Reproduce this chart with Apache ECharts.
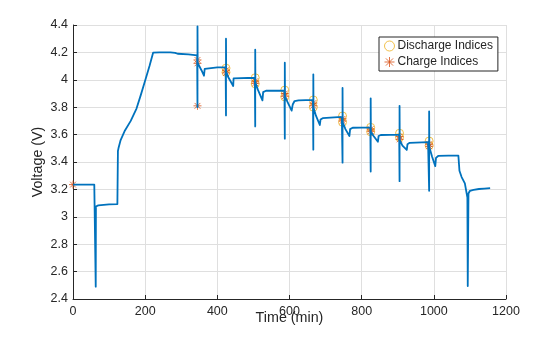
<!DOCTYPE html>
<html>
<head>
<meta charset="utf-8">
<script src="https://cdn.jsdelivr.net/npm/echarts@6/dist/echarts.min.js"></script>
<style>
  html, body { margin: 0; padding: 0; background: #fff; }
  #chart { width: 560px; height: 337px; }
</style>
</head>
<body>
<div id="chart"></div>
<script>
// Cell voltage trace (time in minutes, voltage in volts)
const timeMin = [
  0, 59, 62, 63, 63.5, 70, 100, 123, 124.5, 126, 132, 144, 160, 176, 188, 200, 212, 222, 240, 270, 283, 290, 320, 344,
  345, 345, 345, 345.5, 350, 356, 363, 365, 369, 400, 423,
  424, 424, 424, 424.5, 430, 444, 445, 450, 504,
  505, 505, 505, 505.5, 512, 525, 527, 535, 586,
  587, 587, 587, 587.5, 594, 606, 609, 614, 625, 665,
  666, 666, 666, 666.5, 673, 684, 686, 692, 745,
  747, 747, 747, 747.5, 755, 766, 768, 775, 824,
  825, 825, 825, 825.5, 833, 845, 847, 853, 904,
  905, 905, 905, 905.5, 913, 925, 927, 933, 984,
  987, 987, 987, 987.5, 995, 1004, 1006, 1012, 1040, 1068,
  1071, 1077, 1086, 1091, 1093, 1094, 1096, 1100, 1110, 1125, 1140, 1156
];
const voltage = [
  3.235, 3.235, 3.235, 2.49, 3.075, 3.083, 3.09, 3.093, 3.48, 3.50, 3.56, 3.63, 3.70, 3.79, 3.89, 3.995, 4.10, 4.198, 4.20, 4.20, 4.197, 4.19, 4.185, 4.178,
  4.178, 3.80, 4.39, 4.125, 4.10, 4.07, 4.03, 4.08, 4.085, 4.09, 4.09,
  4.09, 3.74, 4.30, 4.06, 4.02, 3.955, 4.01, 4.015, 4.015,
  4.015, 3.66, 4.22, 3.98, 3.93, 3.85, 3.91, 3.92, 3.922,
  3.922, 3.57, 4.125, 3.88, 3.84, 3.775, 3.82, 3.845, 3.85, 3.853,
  3.853, 3.49, 4.04, 3.80, 3.74, 3.67, 3.71, 3.72, 3.73,
  3.733, 3.395, 3.94, 3.69, 3.64, 3.59, 3.64, 3.65, 3.653,
  3.653, 3.33, 3.865, 3.62, 3.59, 3.548, 3.59, 3.597, 3.60,
  3.60, 3.26, 3.81, 3.56, 3.52, 3.488, 3.53, 3.54, 3.545,
  3.548, 3.19, 3.77, 3.51, 3.44, 3.37, 3.43, 3.444, 3.446, 3.447,
  3.336, 3.29, 3.244, 3.17, 3.14, 2.495, 3.17, 3.19, 3.197, 3.203, 3.206, 3.21
];

// Discharge pulse markers
const dischargeTime = [424, 424, 505, 505, 587, 587, 666, 666, 747, 747, 825, 825, 905, 905, 987, 987];
const dischargeVolt = [4.085, 4.055, 4.015, 3.97, 3.925, 3.875, 3.853, 3.80, 3.736, 3.69, 3.653, 3.62, 3.61, 3.58, 3.553, 3.52];

// Charge pulse markers
const chargeTime = [0, 345, 345, 345, 424, 424, 505, 505, 587, 587, 666, 666, 747, 747, 825, 825, 905, 905, 987, 987];
const chargeVolt = [3.235, 4.145, 4.12, 3.81, 4.07, 4.05, 3.99, 3.975, 3.90, 3.88, 3.83, 3.81, 3.715, 3.70, 3.64, 3.625, 3.585, 3.565, 3.53, 3.515];

const xTicks = { min: 0, max: 1200, step: 200 };
const yTicks = { min: 2.4, max: 4.4, step: 0.2 };

const zip = (a, b) => a.map((v, i) => [v, b[i]]);
const asterisk = 'path://M0,-1L0,1M-1,0L1,0M-0.72,-0.72L0.72,0.72M-0.72,0.72L0.72,-0.72';
const ink = '#262626';
const font = 'Liberation Sans, Arial, Helvetica, sans-serif';

const chart = echarts.init(document.getElementById('chart'), null, { renderer: 'canvas' });
chart.setOption({
  animation: false,
  backgroundColor: '#ffffff',
  grid: { left: 73, top: 25, right: 54, bottom: 38, containLabel: false, outerBoundsMode: 'none' },
  xAxis: {
    type: 'value', min: xTicks.min, max: xTicks.max, interval: xTicks.step,
    name: 'Time (min)', nameLocation: 'middle', nameGap: 12, nameMoveOverlap: false,
    nameTextStyle: { color: ink, fontSize: 14.3, fontFamily: font },
    axisLine: { show: true, lineStyle: { color: ink, width: 1 } },
    axisTick: { show: true, inside: true, length: 4, lineStyle: { color: ink } },
    axisLabel: { color: ink, fontSize: 12.5, fontFamily: font, margin: 6, formatter: v => String(v) },
    splitLine: { show: true, lineStyle: { color: '#dfdfdf', width: 1 } }
  },
  yAxis: {
    type: 'value', min: yTicks.min, max: yTicks.max, interval: yTicks.step,
    name: 'Voltage (V)', nameLocation: 'middle', nameGap: 28, nameMoveOverlap: false,
    nameTextStyle: { color: ink, fontSize: 14.3, fontFamily: font },
    axisLine: { show: true, lineStyle: { color: ink, width: 1 } },
    axisTick: { show: true, inside: true, length: 4, lineStyle: { color: ink } },
    axisLabel: {
      color: ink, fontSize: 12.5, fontFamily: font, margin: 5,
      formatter: v => String(Number(v.toFixed(1)))
    },
    splitLine: { show: true, lineStyle: { color: '#dfdfdf', width: 1 } }
  },
  legend: {
    left: 379, top: 37, orient: 'vertical',
    padding: [3, 5, 3, 5], itemGap: 4, itemWidth: 10, itemHeight: 10,
    borderColor: ink, borderWidth: 1, backgroundColor: '#ffffff',
    textStyle: { color: ink, fontSize: 12, fontFamily: font, padding: [0, 0, 0, -2] },
    data: [
      { name: 'Discharge Indices', icon: 'circle',
        itemStyle: { color: 'rgba(0,0,0,0)', borderColor: '#EDB120', borderWidth: 1 } },
      { name: 'Charge Indices', icon: asterisk,
        itemStyle: { color: 'rgba(0,0,0,0)', borderColor: '#D95319', borderWidth: 1 } }
    ]
  },
  series: [
    {
      name: 'Voltage', type: 'line', data: zip(timeMin, voltage),
      showSymbol: false, clip: true,
      lineStyle: { color: '#0072BD', width: 1.8, join: 'round' }
    },
    {
      name: 'Discharge Indices', type: 'scatter', data: zip(dischargeTime, dischargeVolt),
      symbol: 'circle', symbolSize: 8,
      itemStyle: { color: 'rgba(0,0,0,0)', borderColor: '#EDB120', borderWidth: 1 }
    },
    {
      name: 'Charge Indices', type: 'scatter', data: zip(chargeTime, chargeVolt),
      symbol: asterisk, symbolSize: 8,
      itemStyle: { color: 'rgba(0,0,0,0)', borderColor: '#D95319', borderWidth: 1 }
    }
  ]
});
</script>
</body>
</html>
